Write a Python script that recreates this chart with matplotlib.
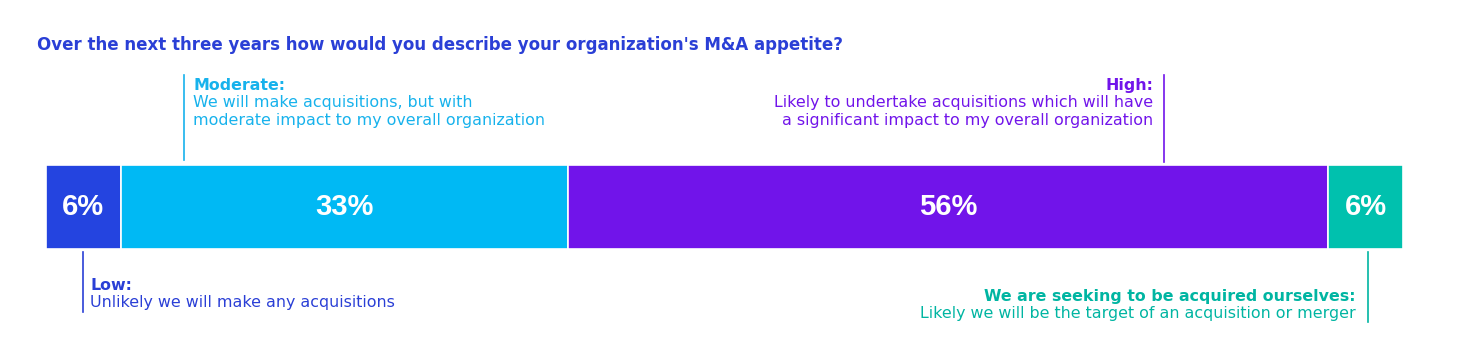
import matplotlib.pyplot as plt
from matplotlib.lines import Line2D

plt.rcParams['font.family'] = ['DejaVu Sans']

categories = ["Low", "Moderate", "High", "Seeking"]
values = [5.5, 33, 56, 5.5]
labels = ["6%", "33%", "56%", "6%"]
colors = ["#2444E0", "#00B9F4", "#7114EA", "#00C1AE"]
text_colors = ["#2A3FD6", "#17B2EC", "#7114EA", "#00B5A2"]

title = "Over the next three years how would you describe your organization's M&A appetite?"
heads = ["Low:", "Moderate:", "High:", "We are seeking to be acquired ourselves:"]
bodies = ["Unlikely we will make any acquisitions",
          "We will make acquisitions, but with\nmoderate impact to my overall organization",
          "Likely to undertake acquisitions which will have\na significant impact to my overall organization",
          "Likely we will be the target of an acquisition or merger"]

W, H = 1460, 360
fig = plt.figure(figsize=(W / 100, H / 100), dpi=100)


def fx(x):
    return x / W


def fy(y):
    return 1 - y / H


ax = fig.add_axes([fx(46), fy(249), fx(1403) - fx(46), fy(165) - fy(249)])
left = 0
for v, lab, c in zip(values, labels, colors):
    ax.barh(0, v, left=left, height=1, color=c, edgecolor="white", linewidth=1.2)
    ax.text(left + v / 2, 0, lab, ha="center", va="center", color="white",
            fontsize=21, fontweight="bold", family=['Liberation Sans'])
    left += v
ax.set_xlim(0, sum(values))
ax.set_ylim(-0.5, 0.5)
ax.axis("off")

fig.text(fx(37), fy(45), title, fontsize=11.95, fontweight="bold", color="#2A3FD6",
         va="center", ha="left")

# callouts: (line x, line y0, line y1, text x, head baseline, align)
callouts = [
    (83, 252, 312, 90, 290, "left"),
    (184, 75, 160, 193, 90, "left"),
    (1164, 75, 162, 1153, 90, "right"),
    (1368, 252, 322, 1356, 301, "right"),
]
for (lx, y0, y1, tx, by, ha), h, b, c in zip(callouts, heads, bodies, text_colors):
    fig.add_artist(Line2D([fx(lx), fx(lx)], [fy(y0), fy(y1)], color=c, linewidth=1.2))
    fig.text(fx(tx), fy(by), h, fontsize=11.4, fontweight="bold", color=c,
             ha=ha, va="baseline")
    fig.text(fx(tx), fy(by + 5), b, fontsize=11.4, color=c, ha=ha, va="top",
             linespacing=1.22, multialignment=ha)

fig.savefig("out.png", dpi=100)
